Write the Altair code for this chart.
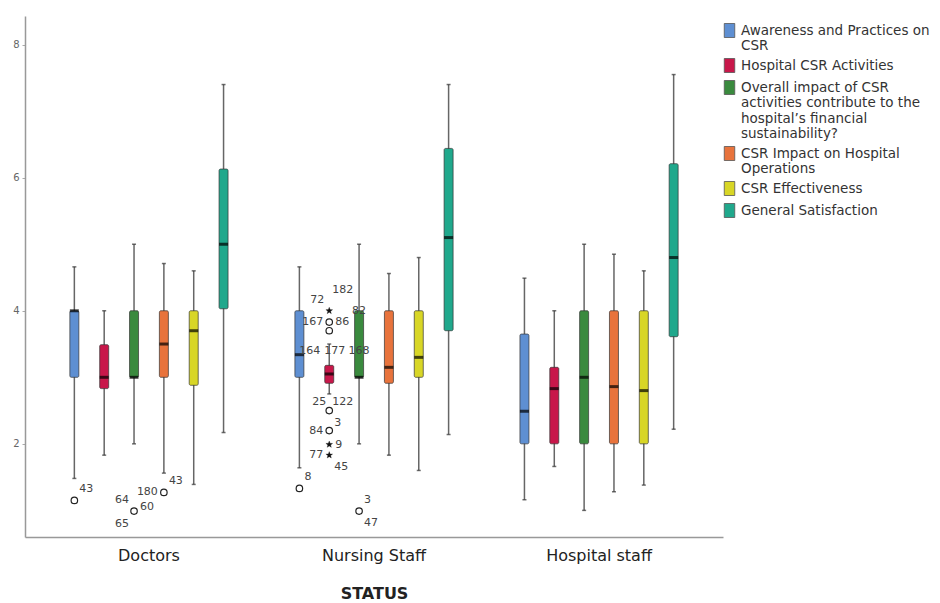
import json
import math
import altair as alt
import pandas as pd

FONT = "DejaVu Sans"

STATUS = ["Doctors", "Nursing Staff", "Hospital staff"]
SERIES = [
    "Awareness and Practices on CSR",
    "Hospital CSR Activities",
    "Overall impact of CSR activities contribute to the hospital’s financial sustainability?",
    "CSR Impact on Hospital Operations",
    "CSR Effectiveness",
    "General Satisfaction",
]
COLORS = ["#5E8FD2", "#C8174A", "#3A8A3E", "#E8733C", "#D8D626", "#20A88C"]

# box statistics per status (order of SERIES)
DOC_LOW = [1.48, 1.83, 2.00, 1.56, 1.39, 2.17]
DOC_Q1 = [3.00, 2.83, 3.00, 3.00, 2.88, 4.03]
DOC_MED = [4.00, 3.00, 3.00, 3.50, 3.70, 5.00]
DOC_Q3 = [4.00, 3.49, 4.00, 4.00, 4.00, 6.13]
DOC_HIGH = [4.66, 4.00, 5.00, 4.71, 4.60, 7.40]

NUR_LOW = [1.64, 2.75, 2.00, 1.83, 1.60, 2.14]
NUR_Q1 = [3.00, 2.91, 3.00, 2.91, 3.00, 3.70]
NUR_MED = [3.34, 3.05, 3.00, 3.15, 3.30, 5.10]
NUR_Q3 = [4.00, 3.18, 4.00, 4.00, 4.00, 6.44]
NUR_HIGH = [4.66, 3.50, 5.00, 4.56, 4.80, 7.40]

HOS_LOW = [1.16, 1.66, 1.00, 1.28, 1.38, 2.22]
HOS_Q1 = [2.00, 2.00, 2.00, 2.00, 2.00, 3.61]
HOS_MED = [2.49, 2.83, 3.00, 2.86, 2.80, 4.80]
HOS_Q3 = [3.65, 3.15, 4.00, 4.00, 4.00, 6.21]
HOS_HIGH = [4.49, 4.00, 5.00, 4.85, 4.60, 7.55]

# outliers / extremes: status, series index, value, kind
OUT_STATUS = ["Doctors", "Doctors", "Doctors",
              "Nursing Staff", "Nursing Staff", "Nursing Staff", "Nursing Staff",
              "Nursing Staff", "Nursing Staff", "Nursing Staff", "Nursing Staff", "Nursing Staff"]
OUT_SERIES = [0, 2, 3, 0, 1, 1, 1, 1, 1, 1, 1, 2]
OUT_VALUE = [1.15, 0.99, 1.27, 1.33, 4.00, 3.83, 3.70, 2.50, 2.20, 1.99, 1.83, 0.99]
OUT_KIND = ["circle", "circle", "circle", "circle", "star", "circle", "circle",
            "circle", "circle", "star", "star", "circle"]

# case labels next to outliers
LBL_TEXT = ["43", "64", "60", "65", "180", "43",
            "8", "72", "182", "82", "167", "86", "164", "177", "168",
            "25", "122", "3", "84", "9", "77", "45", "3", "47"]
LBL_STATUS = ["Doctors"] * 6 + ["Nursing Staff"] * 18
LBL_SERIES = [0, 2, 2, 2, 3, 3,
              0, 1, 1, 2, 1, 1, 1, 1, 2,
              1, 1, 1, 1, 1, 1, 1, 2, 2]
LBL_VALUE = [1.15, 0.99, 0.99, 0.99, 1.27, 1.27,
             1.33, 4.00, 4.00, 4.00, 3.83, 3.83, 3.40, 3.40, 3.40,
             2.63, 2.63, 2.50, 2.20, 1.99, 1.83, 1.83, 0.99, 0.99]
LBL_PLACE = ["ur", "ul", "rh", "dl", "l", "ur",
             "ur", "ul", "uur", "c", "l", "r", "ll", "rc", "c",
             "l2", "r2", "dr", "l", "r", "l", "dr", "ur", "dr"]

# label placement styles: dx, dy, align
PLACEMENTS = {
    "ur": (5, -11, "left"), "ul": (-5, -11, "right"), "uur": (3, -21, "left"),
    "l": (-6, 0, "right"), "ll": (-9, 0, "right"), "r": (6, 0, "left"),
    "rh": (6, -4, "left"), "l2": (-3, 0, "right"), "r2": (3, 0, "left"),
    "dl": (-5, 13, "right"), "dr": (5, 12, "left"), "c": (0, 0, "center"),
    "rc": (-5, 0, "left"),
}

LEGEND_LINES = {
    SERIES[0]: ["Awareness and Practices on", "CSR"],
    SERIES[2]: ["Overall impact of CSR", "activities contribute to the",
                "hospital’s financial", "sustainability?"],
    SERIES[3]: ["CSR Impact on Hospital", "Operations"],
}

# ---- tables ----
rows = []
for st, lo, q1, md, q3, hi in [
    ("Doctors", DOC_LOW, DOC_Q1, DOC_MED, DOC_Q3, DOC_HIGH),
    ("Nursing Staff", NUR_LOW, NUR_Q1, NUR_MED, NUR_Q3, NUR_HIGH),
    ("Hospital staff", HOS_LOW, HOS_Q1, HOS_MED, HOS_Q3, HOS_HIGH),
]:
    for i, s in enumerate(SERIES):
        rows.append({"status": st, "series": s, "low": lo[i], "q1": q1[i],
                     "median": md[i], "q3": q3[i], "high": hi[i]})
box_df = pd.DataFrame(rows)

out_df = pd.DataFrame({
    "status": OUT_STATUS,
    "series": [SERIES[i] for i in OUT_SERIES],
    "value": OUT_VALUE,
    "kind": OUT_KIND,
})
lbl_df = pd.DataFrame({
    "status": LBL_STATUS,
    "series": [SERIES[i] for i in LBL_SERIES],
    "value": LBL_VALUE,
    "text": LBL_TEXT,
    "place": LBL_PLACE,
})

# ---- encodings ----
x_enc = alt.X("status:N", sort=STATUS,
              scale=alt.Scale(paddingInner=0.2044, paddingOuter=0.153),
              axis=alt.Axis(title="STATUS", labelAngle=0, labelFont=FONT, labelFontSize=16,
                            labelColor="#222", labelPadding=10, ticks=False,
                            domainColor="#999", domainWidth=1.5,
                            titleFont=FONT, titleFontSize=16, titleFontWeight="bold",
                            titleColor="#222", titlePadding=22))
xo_enc = alt.XOffset("series:N", sort=SERIES, scale=alt.Scale(paddingInner=0, paddingOuter=0))
y_scale = alt.Scale(domain=[0.6, 8.43], nice=False, zero=False)
y_axis = alt.Axis(values=[2, 4, 6, 8], format="d", title=None, grid=False, labelFont=FONT,
                  labelFontSize=10, labelColor="#666", tickSize=3, tickColor="#aaa",
                  labelPadding=3, domainColor="#999", domainWidth=1.5)

base = alt.Chart(box_df).encode(x=x_enc, xOffset=xo_enc)

whisk = base.mark_rule(color="#666", strokeWidth=1.5).encode(
    y=alt.Y("low:Q", scale=y_scale, axis=y_axis), y2="high:Q")
cap_lo = base.mark_tick(color="#333", size=4, thickness=1.5).encode(y=alt.Y("low:Q"))
cap_hi = base.mark_tick(color="#333", size=4, thickness=1.5).encode(y=alt.Y("high:Q"))

label_expr = "datum.label"
for k, v in LEGEND_LINES.items():
    label_expr = (f"datum.label == {json.dumps(k, ensure_ascii=False)} ? "
                  f"{json.dumps(v, ensure_ascii=False)} : ") + label_expr

boxes = base.mark_bar(size=9, stroke="#333", strokeWidth=0.7, cornerRadius=1.5).encode(
    y=alt.Y("q1:Q"), y2="q3:Q",
    color=alt.Color("series:N", sort=SERIES,
                    scale=alt.Scale(domain=SERIES, range=COLORS),
                    legend=alt.Legend(title=None, orient="none", legendX=697, legendY=7,
                                      labelExpr=label_expr, labelFont=FONT,
                                      labelFontSize=13.5, labelColor="#333",
                                      labelLimit=400, labelOffset=4,
                                      symbolType="M-0.75,-1H0.75V1H-0.75Z",
                                      symbolSize=196, symbolStrokeColor="#555",
                                      symbolStrokeWidth=0.8, symbolOpacity=1,
                                      rowPadding=3, padding=0)),
)
medians = base.mark_tick(color="black", size=9, thickness=3).encode(y=alt.Y("median:Q"))

out_base = alt.Chart(out_df).encode(x=x_enc, xOffset=xo_enc, y=alt.Y("value:Q"))
circles = out_base.transform_filter(alt.datum.kind == "circle").mark_point(
    shape="circle", filled=False, stroke="#222", strokeWidth=1.2, size=42, opacity=1)

star_pts = []
for k in range(10):
    r = 1.0 if k % 2 == 0 else 0.42
    a = math.radians(-90 + 36 * k)
    star_pts.append(f"{r * math.cos(a):.3f},{r * math.sin(a):.3f}")
STAR_PATH = "M" + "L".join(star_pts) + "Z"
stars = out_base.transform_filter(alt.datum.kind == "star").mark_point(
    shape=STAR_PATH, filled=True, fill="#111", stroke="#111", strokeWidth=0.3,
    size=50, opacity=1)

lbl_layers = []
for name, (dx, dy, align) in PLACEMENTS.items():
    lbl_layers.append(
        alt.Chart(lbl_df).transform_filter(alt.datum.place == name).mark_text(
            dx=dx, dy=dy, align=align, baseline="middle", font=FONT,
            fontSize=11, color="#444").encode(
            x=x_enc, xOffset=xo_enc, y=alt.Y("value:Q"), text="text:N"))

chart = alt.layer(whisk, cap_lo, cap_hi, boxes, medians, circles, stars, *lbl_layers).properties(
    width=698, height=521,
    padding={"left": 4, "top": 8, "right": 0, "bottom": 0},
).configure(background="white", view=alt.ViewConfig(stroke=None))

chart.save("out.html", embed_options={"renderer": "svg", "actions": False})
